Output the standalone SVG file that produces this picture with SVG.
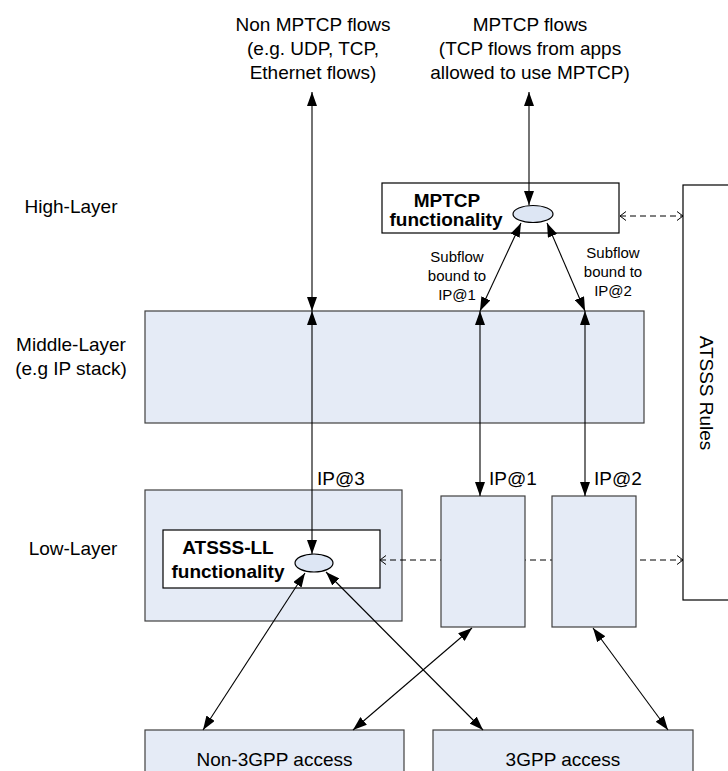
<svg xmlns="http://www.w3.org/2000/svg" width="728" height="771" viewBox="0 0 728 771">
<style>
text{font-family:"Liberation Sans",Arial,sans-serif;fill:#000}
.t{font-size:19px}
.b{font-size:19px;font-weight:bold}
.s{font-size:15px}
.m{text-anchor:middle}
.blue{fill:#E5EBF6;stroke:#404040;stroke-width:1.2}
.white{fill:#fff;stroke:#000;stroke-width:1.2}
.ell{fill:#DDE6F4;stroke:#000;stroke-width:1.2}
.c{fill:none;stroke:#000;stroke-width:1.1}
.arr{marker-start:url(#ah);marker-end:url(#ah)}
.d{fill:none;stroke:#000;stroke-width:1;stroke-dasharray:6 4;marker-start:url(#oh);marker-end:url(#oh)}
</style>
<defs>
<marker id="ah" viewBox="0 0 14 10" refX="14" refY="5" markerWidth="14" markerHeight="10" markerUnits="userSpaceOnUse" orient="auto-start-reverse"><path d="M0,0 L14,5 L0,10 z" fill="#000"/></marker>
<marker id="oh" viewBox="0 0 7 10" refX="6.5" refY="5" markerWidth="7" markerHeight="10" markerUnits="userSpaceOnUse" orient="auto-start-reverse"><path d="M0.5,0.5 L6.5,5 L0.5,9.5" fill="none" stroke="#000" stroke-width="1"/></marker>
</defs>
<rect width="728" height="771" fill="#fff"/>

<g id="label-nonmptcp">
<text class="t m" x="313" y="31">Non MPTCP flows</text>
<text class="t m" x="313" y="55">(e.g. UDP, TCP,</text>
<text class="t m" x="313" y="79">Ethernet flows)</text>
</g>
<g id="label-mptcp">
<text class="t m" x="530" y="31">MPTCP flows</text>
<text class="t m" x="530" y="55">(TCP flows from apps</text>
<text class="t m" x="530" y="79">allowed to use MPTCP)</text>
</g>
<g id="layer-labels">
<text class="t m" x="71" y="213">High-Layer</text>
<text class="t m" x="71" y="351">Middle-Layer</text>
<text class="t m" x="71" y="375">(e.g IP stack)</text>
<text class="t m" x="73" y="555">Low-Layer</text>
</g>

<g id="atsss-rules">
<rect class="white" x="683" y="185" width="70" height="415"/>
<text class="t m" transform="translate(700,393) rotate(90)">ATSSS Rules</text>
</g>

<g id="middle-layer">
<rect class="blue" x="145" y="311" width="499" height="112"/>
</g>

<g id="low-layer">
<rect class="blue" x="145" y="490" width="257" height="131"/>
</g>

<g id="dashed-ll">
<path class="d" d="M380,560 H683"/>
</g>

<g id="ip1-box">
<rect class="blue" x="441" y="496" width="84" height="131"/>
</g>
<g id="ip2-box">
<rect class="blue" x="552" y="496" width="84" height="131"/>
</g>

<g id="atsss-ll">
<rect class="white" x="163" y="530" width="217" height="58"/>
<text class="b m" x="228" y="554">ATSSS-LL</text>
<text class="b m" x="228" y="578">functionality</text>
<ellipse class="ell" cx="314" cy="563" rx="19" ry="9"/>
</g>

<g id="mptcp">
<rect class="white" x="382" y="183" width="237" height="50"/>
<text class="b m" x="447" y="207">MPTCP</text>
<text class="b m" x="446" y="226">functionality</text>
<ellipse class="ell" cx="533" cy="214" rx="20" ry="8.5"/>
</g>

<g id="non3gpp">
<rect class="blue" x="145" y="730" width="259" height="60"/>
<text class="t m" x="274.5" y="766">Non-3GPP access</text>
</g>
<g id="3gpp">
<rect class="blue" x="433" y="730" width="260" height="60"/>
<text class="t m" x="563" y="766">3GPP access</text>
</g>

<g id="connectors">
<path class="c arr" d="M312,92 V311"/>
<path class="c arr" d="M529,92 V205"/>
<path class="c arr" d="M312,311 V554"/>
<path class="c arr" d="M521,223 L480,311"/>
<path class="c arr" d="M547,223 L585,311"/>
<path class="c arr" d="M480,311 V496"/>
<path class="c arr" d="M585,311 V496"/>
<path class="c arr" d="M305,573 L203,730"/>
<path class="c arr" d="M326,572 L483,730"/>
<path class="c arr" d="M472,628 L353,730"/>
<path class="c arr" d="M593,628 L668,730"/>
<path class="d" d="M620,216 H683"/>
</g>

<g id="connector-labels">
<text class="s m" x="457" y="262">Subflow</text>
<text class="s m" x="457" y="281">bound to</text>
<text class="s m" x="457" y="300">IP@1</text>
<text class="s m" x="613" y="258">Subflow</text>
<text class="s m" x="613" y="277">bound to</text>
<text class="s m" x="613" y="296">IP@2</text>
<text class="t" x="317" y="485">IP@3</text>
<text class="t" x="489" y="485">IP@1</text>
<text class="t" x="594" y="485">IP@2</text>
</g>
</svg>
